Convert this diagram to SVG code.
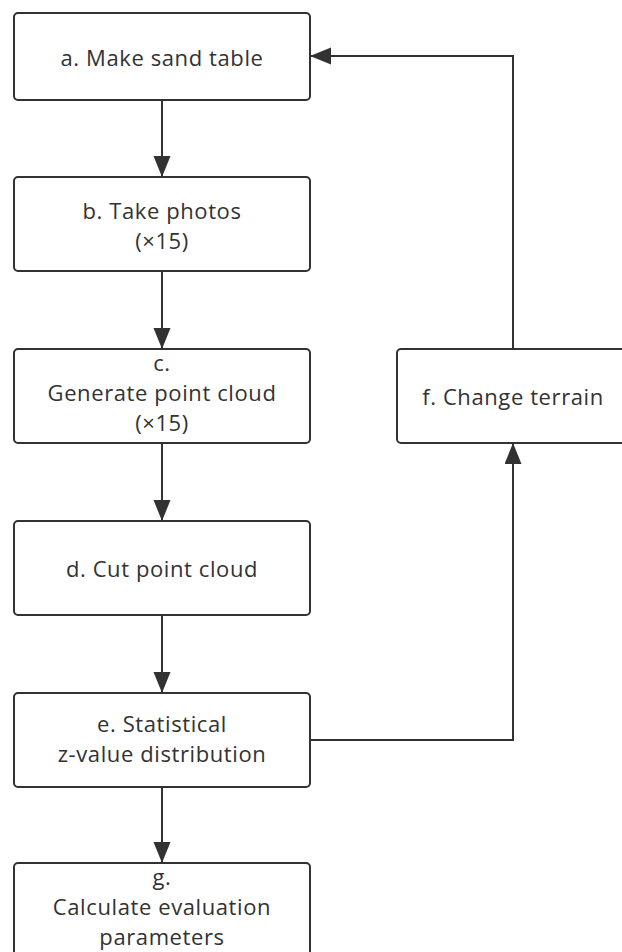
<svg xmlns="http://www.w3.org/2000/svg" width="622" height="952" viewBox="0 0 622 952">
<style>
.box{fill:#ffffff;stroke:#323232;stroke-width:2}
.lbl{font-family:"Open Sans","Noto Sans",sans-serif;font-size:22px;letter-spacing:0.6px;fill:#323232;text-anchor:middle}
.conn{fill:none;stroke:#323232;stroke-width:2}
</style>
<defs>
<marker id="ah" markerUnits="userSpaceOnUse" markerWidth="22" markerHeight="18" refX="21" refY="8.5" orient="auto">
<path d="M0,0 L21,8.5 L0,17 Z" fill="#323232"/>
</marker>
</defs>
<rect width="622" height="952" fill="#ffffff"/>
<g id="connectors">
<path class="conn" d="M162,100 L162,177" marker-end="url(#ah)"/>
<path class="conn" d="M162,271 L162,349" marker-end="url(#ah)"/>
<path class="conn" d="M162,443 L162,521" marker-end="url(#ah)"/>
<path class="conn" d="M162,615 L162,693" marker-end="url(#ah)"/>
<path class="conn" d="M162,787 L162,863" marker-end="url(#ah)"/>
<path class="conn" d="M310,740 L513,740 L513,443" marker-end="url(#ah)"/>
<path class="conn" d="M513,349 L513,56 L310,56" marker-end="url(#ah)"/>
</g>
<g id="node-a">
<rect class="box" x="14" y="13" width="296" height="87" rx="4"/>
<text class="lbl" x="162" y="66">a. Make sand table</text>
</g>
<g id="node-b">
<rect class="box" x="14" y="177" width="296" height="94" rx="4"/>
<text class="lbl" x="162" y="219">b. Take photos</text>
<text class="lbl" x="162" y="249">(×15)</text>
</g>
<g id="node-c">
<rect class="box" x="14" y="349" width="296" height="94" rx="4"/>
<text class="lbl" x="162" y="371">c.</text>
<text class="lbl" x="162" y="401">Generate point cloud</text>
<text class="lbl" x="162" y="431">(×15)</text>
</g>
<g id="node-d">
<rect class="box" x="14" y="521" width="296" height="94" rx="4"/>
<text class="lbl" x="162" y="577">d. Cut point cloud</text>
</g>
<g id="node-e">
<rect class="box" x="14" y="693" width="296" height="94" rx="4"/>
<text class="lbl" x="162" y="732">e. Statistical</text>
<text class="lbl" x="162" y="762">z-value distribution</text>
</g>
<g id="node-f">
<rect class="box" x="397" y="349" width="232" height="94" rx="4"/>
<text class="lbl" x="513" y="405">f. Change terrain</text>
</g>
<g id="node-g">
<rect class="box" x="14" y="863" width="296" height="94" rx="4"/>
<text class="lbl" x="162" y="885">g.</text>
<text class="lbl" x="162" y="915">Calculate evaluation</text>
<text class="lbl" x="162" y="945">parameters</text>
</g>
</svg>
